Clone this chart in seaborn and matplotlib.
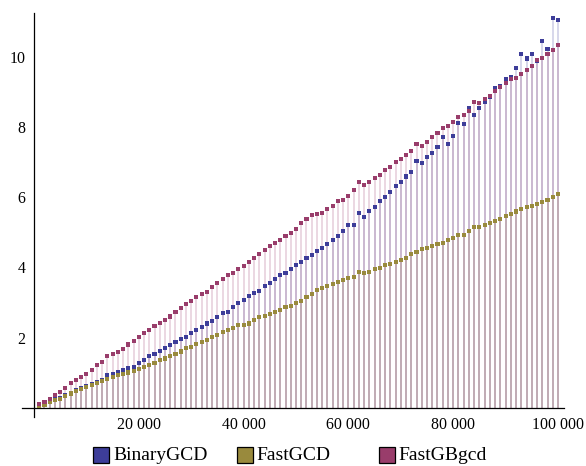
import numpy as np
import pandas as pd
import matplotlib
matplotlib.use("Agg")
import matplotlib.pyplot as plt
from matplotlib.patches import Rectangle
from matplotlib.ticker import FixedLocator, MultipleLocator
import seaborn as sns

# ---------------- data ----------------
n_values = list(range(1000, 100001, 1000))

binary_gcd = [
    0.05, 0.10, 0.17, 0.23, 0.28, 0.36, 0.42, 0.50, 0.55,
    0.62, 0.66, 0.72, 0.78, 0.94, 0.97, 1.00, 1.07, 1.14,
    1.17, 1.28, 1.35, 1.46, 1.53, 1.62, 1.69, 1.79, 1.86, 1.97, 2.01, 2.13, 2.22, 2.29, 2.40, 2.46, 2.58, 2.69,
    2.74, 2.87, 2.98, 3.06, 3.18, 3.26, 3.34, 3.47, 3.56, 3.68, 3.78, 3.83, 3.95, 4.07, 4.16, 4.28, 4.35,
    4.47, 4.55, 4.67, 4.78, 4.90, 5.05, 5.22, 5.22, 5.55, 5.45, 5.61, 5.72, 5.89, 6.01, 6.17, 6.32, 6.44, 6.60, 6.73, 7.05,
    6.99, 7.16, 7.28, 7.44, 7.72, 7.54, 7.76, 8.14, 8.10, 8.55, 8.36, 8.55, 8.73, 8.87, 9.14, 9.17, 9.37, 9.45, 9.69,
    10.09, 9.97, 10.09, 9.90, 10.48, 10.25, 11.13, 11.07,
]

fast_gcd = [
    0.03, 0.08, 0.16, 0.21, 0.25, 0.33, 0.40, 0.47, 0.52, 0.59, 0.64, 0.69, 0.75, 0.82, 0.88, 0.93, 0.97, 1.00,
    1.05, 1.10, 1.15, 1.21, 1.27, 1.35, 1.40, 1.48, 1.52, 1.60, 1.69, 1.73, 1.81, 1.87, 1.93, 2.01, 2.08, 2.15,
    2.22, 2.28, 2.35, 2.35, 2.40, 2.50, 2.58, 2.62, 2.68, 2.74, 2.79, 2.86, 2.90, 2.98, 3.04, 3.16, 3.25, 3.36,
    3.42, 3.48, 3.52, 3.58, 3.63, 3.69, 3.73, 3.88, 3.83, 3.88, 3.95, 3.99, 4.07, 4.11, 4.16, 4.22, 4.27, 4.39, 4.45,
    4.52, 4.57, 4.62, 4.67, 4.71, 4.78, 4.83, 4.94, 4.94, 5.05, 5.17, 5.17, 5.21, 5.26, 5.34, 5.39, 5.46, 5.53,
    5.60, 5.67, 5.72, 5.77, 5.82, 5.88, 5.94, 6.01, 6.09,
]

fast_gb_gcd = [
    0.11, 0.16, 0.24, 0.35, 0.45, 0.56, 0.70, 0.78, 0.88, 0.97, 1.07, 1.21, 1.31, 1.47, 1.52, 1.58, 1.67, 1.80,
    1.91, 2.02, 2.13, 2.21, 2.33, 2.41, 2.49, 2.60, 2.72, 2.83, 2.96, 3.04, 3.16, 3.23, 3.31, 3.44, 3.55, 3.68,
    3.78, 3.83, 3.95, 4.05, 4.16, 4.28, 4.38, 4.51, 4.62, 4.71, 4.78, 4.90, 4.99, 5.10, 5.26, 5.39, 5.50,
    5.53, 5.55, 5.66, 5.77, 5.89, 5.93, 6.05, 6.22, 6.44, 6.37, 6.44, 6.56, 6.64, 6.78, 6.87, 7.00, 7.10, 7.20, 7.32, 7.54,
    7.48, 7.59, 7.72, 7.83, 7.99, 8.03, 8.15, 8.31, 8.36, 8.48, 8.74, 8.70, 8.81, 8.89, 9.05, 9.16, 9.27, 9.39, 9.42,
    9.54, 9.65, 9.75, 9.92, 9.98, 10.09, 10.21, 10.36,
]

series_names = ["BinaryGCD", "FastGCD", "FastGBgcd"]
series_colors = ["#3d3d99", "#998a3d", "#993d6b"]

x_ticks = [20000, 40000, 60000, 80000, 100000]
x_tick_labels = ["20 000", "40 000", "60 000", "80 000", "100 000"]
y_ticks = [2, 4, 6, 8, 10]
y_tick_labels = ["2", "4", "6", "8", "10"]

# ---------------- figure ----------------
sns.set_theme(style="white")
plt.rcParams["font.family"] = ["Liberation Serif", "DejaVu Serif"]

W, H = 586, 466
fig = plt.figure(figsize=(W / 100, H / 100), dpi=100)
ax = fig.add_axes([22 / W, 1 - 417 / H, 542 / W, 404 / H])

frames = []
for name, vals in zip(series_names, [binary_gcd, fast_gcd, fast_gb_gcd]):
    frames.append(pd.DataFrame({"n": n_values, "seconds": vals, "algorithm": name}))
df = pd.concat(frames, ignore_index=True)

# filling to the axis
for name, col in zip(series_names, series_colors):
    sub = df[df["algorithm"] == name]
    ax.vlines(sub["n"], 0, sub["seconds"], colors=col, alpha=0.2, lw=1.4, zorder=1)

sns.scatterplot(data=df, x="n", y="seconds", hue="algorithm",
                palette=dict(zip(series_names, series_colors)),
                marker="s", s=8.5, linewidth=0, legend=False, ax=ax, zorder=3)

ax.set_xlim(-2290, 101145)
ax.set_ylim(-0.271, 11.27)
ax.set_xlabel("")
ax.set_ylabel("")

for s in ["top", "right"]:
    ax.spines[s].set_visible(False)
ax.spines["left"].set_position(("data", 0))
ax.spines["bottom"].set_position(("data", 0))
for s in ["left", "bottom"]:
    ax.spines[s].set_color("black")
    ax.spines[s].set_linewidth(0.9)

ax.xaxis.set_major_locator(FixedLocator(x_ticks))
ax.set_xticklabels(x_tick_labels)
ax.xaxis.set_minor_locator(MultipleLocator(5000))
ax.yaxis.set_major_locator(FixedLocator(y_ticks))
ax.set_yticklabels(y_tick_labels)
ax.yaxis.set_minor_locator(MultipleLocator(0.5))

ax.tick_params(axis="both", which="major", direction="in", length=4.8, width=1.2,
               color="black", labelsize=11.4, labelcolor="black")
ax.tick_params(axis="both", which="minor", direction="in", length=3.0, width=0.8, color="black")
ax.tick_params(axis="x", which="major", pad=7)
ax.tick_params(axis="y", which="major", pad=6)
ax.grid(False)
ax.set_facecolor("white")

# legend (manual, Mathematica style)
legend_swatch_x = [93, 237, 379]
legend_text_x = [113, 256, 398]
for name, col, sx, tx in zip(series_names, series_colors, legend_swatch_x, legend_text_x):
    fig.add_artist(Rectangle((sx / W, 1 - 463 / H), 16 / W, 16 / H,
                             transform=fig.transFigure, facecolor=col,
                             edgecolor="black", linewidth=0.9))
    fig.text(tx / W, 1 - 455 / H, name, ha="left", va="center", fontsize=14, color="black")

fig.savefig("out.png", dpi=100, facecolor="white")
